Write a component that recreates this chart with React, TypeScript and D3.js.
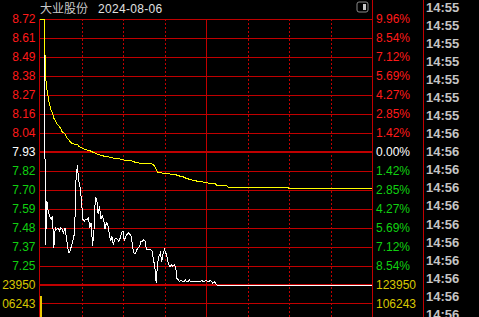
import React from 'react';
import * as d3 from 'd3';

const W = 479;
const H = 317;

const stockName = '大业股份';
const tradeDate = '2024-08-06';
const limitUp = 8.72;
const limitDown = 7.14;

const leftPriceLabels = ['8.72', '8.61', '8.49', '8.38', '8.27', '8.16', '8.04', '7.93', '7.82', '7.70', '7.59', '7.48', '7.37', '7.25'];
const rightPctLabels = ['9.96%', '8.54%', '7.12%', '5.69%', '4.27%', '2.85%', '1.42%', '0.00%', '1.42%', '2.85%', '4.27%', '5.69%', '7.12%', '8.54%'];

const volTickValues = [123950, 106243];
const volLeftLabels = ['23950', '06243'];
const volRightLabels = ['123950', '106243'];

const tickTimes = [
  '14:55', '14:55', '14:55', '14:55', '14:55', '14:55', '14:55',
  '14:56', '14:56', '14:56', '14:56', '14:56', '14:56', '14:56', '14:56', '14:56', '14:56', '14:56',
];

// minute-by-minute price from 9:30 (index = minutes since open)
const prices = [
  8.72, 8.72, 8.72, 8.72, 7.38, 7.64, 7.57, 7.55, 7.53, 7.55,
  7.36, 7.48, 7.47, 7.48, 7.46, 7.48, 7.47, 7.45, 7.48, 7.43,
  7.36, 7.33, 7.35, 7.38, 7.41, 7.45, 7.76, 7.85, 7.76, 7.72,
  7.64, 7.53, 7.52, 7.53, 7.53, 7.54, 7.48, 7.51, 7.37, 7.46,
  7.66, 7.65, 7.56, 7.61, 7.53, 7.55, 7.53, 7.47, 7.51, 7.50,
  7.45, 7.40, 7.43, 7.38, 7.41, 7.42, 7.41, 7.40, 7.42, 7.45,
  7.46, 7.40, 7.43, 7.44, 7.45, 7.44, 7.43, 7.36, 7.33, 7.33,
  7.35, 7.36, 7.37, 7.40, 7.40, 7.41, 7.40, 7.35, 7.35, 7.35,
  7.35, 7.34, 7.29, 7.25, 7.15, 7.27, 7.31, 7.33, 7.28, 7.33,
  7.35, 7.33, 7.30, 7.26, 7.25, 7.26, 7.25, 7.26, 7.25, 7.18,
  7.17, 7.16, 7.17, 7.16, 7.16, 7.17, 7.16, 7.16, 7.17, 7.16,
  7.16, 7.16, 7.16, 7.16, 7.16, 7.16, 7.16, 7.17, 7.16, 7.16,
  7.17, 7.16, 7.16, 7.17, 7.16, 7.15, 7.16, 7.15, 7.14,
];
const closeMinute = 240;
const closePrice = 7.14;

const avgMinutes = [
  0, 3, 4, 5, 6, 7, 8, 9, 10, 11, 12, 13, 14, 15, 16, 17, 18, 19, 20, 21, 22, 23, 25, 27, 28, 30,
  32, 34, 36, 38, 40, 42, 44, 46, 48, 50, 53, 56, 58, 61, 64, 67, 69, 72, 76, 81, 82, 83, 84, 85,
  86, 91, 92, 98, 99, 101, 103, 105, 108, 111, 113, 115, 119, 121, 127, 128, 135, 136, 179, 180, 240,
];
const avgPrices = [
  8.72, 8.72, 8.38, 8.30, 8.25, 8.21, 8.18, 8.16, 8.13, 8.12, 8.10, 8.09, 8.08, 8.07, 8.05, 8.045, 8.04, 8.02, 8.01, 8.0, 7.99, 7.98, 7.977, 7.975, 7.965, 7.955,
  7.948, 7.942, 7.938, 7.93, 7.922, 7.915, 7.91, 7.906, 7.904, 7.9, 7.894, 7.892, 7.888, 7.882, 7.879, 7.876, 7.868, 7.864, 7.862, 7.859, 7.853, 7.845, 7.825, 7.81,
  7.806, 7.804, 7.8, 7.798, 7.792, 7.787, 7.785, 7.776, 7.768, 7.762, 7.758, 7.754, 7.751, 7.746, 7.74, 7.73, 7.728, 7.72, 7.72, 7.714, 7.714,
];

const volumeMinutes = [0];
const volumes = [113000];

const RED_LINE = '#c00000';
const RED_TXT = '#ff1a1a';
const GREEN_TXT = '#10d010';
const WHITE_TXT = '#ffffff';
const YELLOW_TXT = '#d8c800';

export default function App() {
  const left = 40;
  const right = 372;
  const top = 19;
  const bottom = 285;

  const x = d3.scaleLinear().domain([0, 240]).range([left, right]);
  const y = d3.scaleLinear().domain([limitDown, limitUp]).range([bottom, top]);
  const yv = d3.scaleLinear().domain([0, volTickValues[0]]).range([bottom + 7 * 18.3, bottom]);

  const levels = d3.range(15).map((i) => limitUp - (i * (limitUp - limitDown)) / 14);

  const pricePts: [number, number][] = prices.map((p, i) => [i, p]);
  pricePts.push([closeMinute, closePrice]);
  const avgPts: [number, number][] = avgMinutes.map((m, i) => [m, avgPrices[i]]);

  const line = d3
    .line<[number, number]>()
    .x((d) => x(d[0]))
    .y((d) => y(d[1]));

  const labelColor = (i: number) => (i < 7 ? RED_TXT : i === 7 ? WHITE_TXT : GREEN_TXT);
  const font = "'Liberation Sans', Arial, sans-serif";

  return (
    <svg
      width={W}
      height={H}
      style={{ position: 'fixed', left: 0, top: 0, display: 'block', background: '#000' }}
    >
      <rect x={0} y={0} width={W} height={H} fill="#000" />

      {/* title */}
      <text x={40} y={13} fill="#c8c8c8" fontSize={12} fontFamily="'Noto Sans CJK SC', sans-serif">
        {stockName}
      </text>
      <text x={98} y={12.7} fill="#e0e0e0" fontSize={12} fontFamily={font} letterSpacing={0.3}>
        {tradeDate}
      </text>

      {/* icon */}
      <rect x={357} y={2} width={11} height={10} rx={2} fill="none" stroke="#8a8a8a" strokeWidth={1} />
      <rect x={363} y={4} width={3} height={6} fill="#c8c8c8" />

      {/* vertical grid */}
      {d3.range(1, 9).map((k) => {
        const xx = Math.round(x(k * 30)) + 0.5;
        const solid = k === 4 || k === 8;
        return (
          <line
            key={'v' + k}
            x1={xx}
            x2={xx}
            y1={k === 8 ? 0 : top}
            y2={H}
            stroke={RED_LINE}
            strokeWidth={1}
            strokeDasharray={solid ? undefined : '2,2'}
            shapeRendering="crispEdges"
          />
        );
      })}
      <line x1={39.5} x2={39.5} y1={top} y2={H} stroke={RED_LINE} shapeRendering="crispEdges" />
      <line x1={423.5} x2={423.5} y1={0} y2={H} stroke={RED_LINE} shapeRendering="crispEdges" />

      {/* horizontal price grid */}
      {levels.map((lv, i) => {
        const thick = i === 7 || i === 14;
        const yy = Math.round(y(lv)) + (thick ? 0 : 0.5);
        return (
          <line
            key={'h' + i}
            x1={left}
            x2={right}
            y1={yy}
            y2={yy}
            stroke={RED_LINE}
            strokeWidth={thick ? 2 : 1}
            shapeRendering="crispEdges"
          />
        );
      })}
      {/* volume grid */}
      {volTickValues.slice(1).map((v, i) => {
        const yy = Math.round(yv(v)) + 0.5;
        return (
          <line key={'vg' + i} x1={left} x2={right} y1={yy} y2={yy} stroke={RED_LINE} shapeRendering="crispEdges" />
        );
      })}

      {/* left price labels */}
      {leftPriceLabels.map((t, i) => (
        <text
          key={'lp' + i}
          x={35.5}
          y={y(levels[i]) + 4.3}
          textAnchor="end"
          fill={labelColor(i)}
          fontSize={12}
          fontFamily={font}
        >
          {t}
        </text>
      ))}
      {rightPctLabels.map((t, i) => (
        <text key={'rp' + i} x={376} y={y(levels[i]) + 4.3} fill={labelColor(i)} fontSize={12} fontFamily={font}>
          {t}
        </text>
      ))}
      {volTickValues.map((v, i) => (
        <React.Fragment key={'vl' + i}>
          <text x={35.5} y={yv(v) + 4.3} textAnchor="end" fill={YELLOW_TXT} fontSize={12} fontFamily={font}>
            {volLeftLabels[i]}
          </text>
          <text x={376} y={yv(v) + 4.3} fill={YELLOW_TXT} fontSize={12} fontFamily={font}>
            {volRightLabels[i]}
          </text>
        </React.Fragment>
      ))}

      {/* volume bars */}
      {volumes.map((v, i) => (
        <rect
          key={'vb' + i}
          x={x(volumeMinutes[i])}
          y={yv(v)}
          width={1.5}
          height={H - yv(v)}
          fill="#e8c800"
          shapeRendering="crispEdges"
        />
      ))}

      {/* price & average */}
      <path d={line(pricePts) || ''} fill="none" stroke="#ffffff" strokeWidth={1} shapeRendering="crispEdges" />
      <path d={line(avgPts) || ''} fill="none" stroke="#ffff00" strokeWidth={1} shapeRendering="crispEdges" />

      {/* tick time column */}
      {tickTimes.map((t, i) => (
        <text
          key={'tt' + i}
          x={426}
          y={11.7 + i * 18.07}
          fill="#c4c4c4"
          fontSize={13}
          fontWeight="bold"
          fontFamily={font}
        >
          {t}
        </text>
      ))}
    </svg>
  );
}
